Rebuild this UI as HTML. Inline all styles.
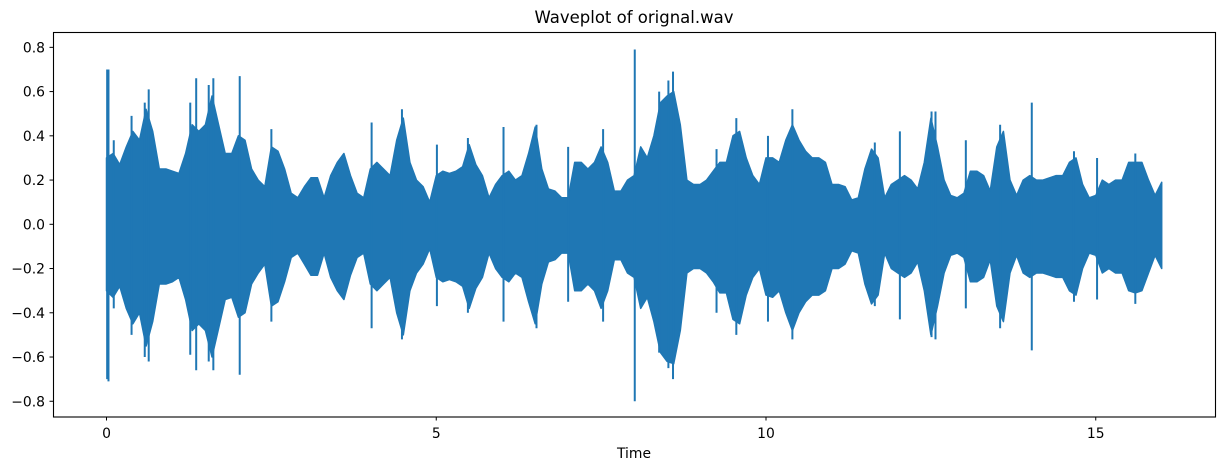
<!DOCTYPE html>
<html><head><meta charset="utf-8"><style>
html,body{margin:0;padding:0;background:#fff;}
svg{display:block;font-family:"DejaVu Sans","Liberation Sans",sans-serif;}
</style></head><body>
<svg id="chart" width="1225" height="470" viewBox="0 0 1225 470" xmlns="http://www.w3.org/2000/svg">
<text x="634" y="23" font-size="16.5" text-anchor="middle" fill="#000">Waveplot of orignal.wav</text>
<g id="plot"></g>
<rect x="53.5" y="32.5" width="1162" height="384.5" fill="none" stroke="#000" stroke-width="1.1"/>
<g id="xaxis"></g>
<g id="yaxis"></g>
<text x="634" y="458" font-size="13.9" text-anchor="middle" fill="#000">Time</text>
</svg>
<script>
const xTicks=[0,5,10,15];
const yTicks=[-0.8,-0.6,-0.4,-0.2,0.0,0.2,0.4,0.6,0.8];
const yTickLabels=["−0.8","−0.6","−0.4","−0.2","0.0","0.2","0.4","0.6","0.8"];
const envStep=0.1;
const posEnv=[0.30,0.32,0.27,0.35,0.42,0.38,0.52,0.42,0.25,0.25,0.24,0.23,0.32,0.45,0.42,0.45,0.58,0.45,0.32,0.32,0.40,0.38,0.25,0.20,0.17,0.35,0.33,0.25,0.14,0.12,0.17,0.21,0.21,0.12,0.22,0.28,0.32,0.22,0.14,0.12,0.25,0.28,0.25,0.22,0.38,0.48,0.28,0.20,0.17,0.10,0.22,0.24,0.23,0.24,0.26,0.36,0.27,0.22,0.12,0.18,0.22,0.24,0.20,0.22,0.32,0.44,0.25,0.16,0.15,0.12,0.12,0.28,0.28,0.25,0.28,0.35,0.28,0.15,0.15,0.20,0.22,0.35,0.30,0.40,0.55,0.58,0.60,0.45,0.20,0.18,0.18,0.20,0.24,0.28,0.28,0.40,0.42,0.30,0.22,0.18,0.30,0.30,0.28,0.38,0.45,0.38,0.33,0.30,0.30,0.28,0.18,0.18,0.17,0.11,0.12,0.25,0.34,0.30,0.12,0.18,0.20,0.22,0.20,0.16,0.28,0.48,0.35,0.20,0.13,0.12,0.14,0.24,0.24,0.22,0.15,0.35,0.42,0.20,0.13,0.20,0.22,0.20,0.20,0.21,0.22,0.22,0.28,0.30,0.18,0.12,0.13,0.20,0.18,0.20,0.20,0.28,0.28,0.28,0.20,0.13,0.19];
const negEnv=[0.30,0.33,0.28,0.38,0.45,0.40,0.55,0.44,0.27,0.27,0.26,0.24,0.34,0.48,0.45,0.48,0.60,0.47,0.34,0.33,0.42,0.40,0.27,0.22,0.18,0.37,0.35,0.26,0.15,0.13,0.18,0.23,0.23,0.13,0.24,0.30,0.34,0.23,0.15,0.13,0.27,0.30,0.27,0.24,0.40,0.50,0.30,0.22,0.18,0.11,0.24,0.26,0.25,0.26,0.28,0.38,0.29,0.24,0.13,0.20,0.24,0.26,0.22,0.24,0.35,0.45,0.27,0.17,0.16,0.13,0.13,0.30,0.30,0.27,0.30,0.38,0.30,0.16,0.16,0.22,0.24,0.38,0.33,0.44,0.58,0.62,0.63,0.48,0.22,0.20,0.20,0.22,0.26,0.31,0.31,0.43,0.45,0.32,0.24,0.20,0.32,0.33,0.30,0.40,0.48,0.40,0.35,0.32,0.32,0.30,0.20,0.20,0.18,0.12,0.13,0.27,0.36,0.32,0.13,0.20,0.22,0.24,0.22,0.17,0.30,0.50,0.37,0.22,0.14,0.13,0.15,0.26,0.26,0.24,0.16,0.37,0.44,0.22,0.14,0.22,0.24,0.22,0.22,0.23,0.24,0.24,0.30,0.32,0.20,0.13,0.14,0.22,0.20,0.22,0.22,0.30,0.31,0.30,0.22,0.14,0.20];
const spikeTimes=[0.01,0.03,0.11,0.38,0.58,0.64,1.27,1.36,1.55,1.62,2.02,2.5,4.02,4.48,5.01,5.48,6.02,6.52,7.0,7.53,8.01,8.38,8.52,8.59,9.25,9.55,10.03,10.4,11.65,12.03,12.51,12.57,13.03,13.55,14.03,14.67,15.02,15.6];
const spikeHigh=[0.70,0.70,0.38,0.49,0.55,0.61,0.55,0.66,0.63,0.66,0.67,0.43,0.46,0.52,0.36,0.39,0.44,0.45,0.35,0.43,0.79,0.60,0.65,0.69,0.34,0.48,0.40,0.52,0.37,0.42,0.51,0.51,0.38,0.45,0.55,0.33,0.30,0.32];
const spikeLow=[-0.70,-0.71,-0.38,-0.50,-0.60,-0.62,-0.59,-0.66,-0.62,-0.66,-0.68,-0.44,-0.47,-0.52,-0.37,-0.40,-0.44,-0.47,-0.35,-0.44,-0.80,-0.58,-0.65,-0.70,-0.40,-0.50,-0.44,-0.52,-0.37,-0.43,-0.51,-0.52,-0.38,-0.47,-0.57,-0.35,-0.34,-0.36];

const NS="http://www.w3.org/2000/svg";
const X=t=>106.5+t*65.95;
const Y=v=>224.3-v*221.2;
const color="#1f77b4";
function mk(tag,attrs,parent){const e=document.createElementNS(NS,tag);for(const k in attrs)e.setAttribute(k,attrs[k]);parent.appendChild(e);return e;}
const plot=document.getElementById('plot');
let pts=[];
const tEnd=16.03;
for(let i=0;i<posEnv.length;i++){const t=Math.min(i*envStep,tEnd);pts.push(X(t).toFixed(1)+","+Y(posEnv[i]).toFixed(1));}
for(let i=negEnv.length-1;i>=0;i--){const t=Math.min(i*envStep,tEnd);pts.push(X(t).toFixed(1)+","+Y(-negEnv[i]).toFixed(1));}
const poly=mk('polygon',{points:pts.join(' '),fill:color,stroke:color,'stroke-width':'1.5','stroke-linejoin':'round'},plot);


for(let i=0;i<spikeTimes.length;i++){
  const l=mk('line',{x1:X(spikeTimes[i]),x2:X(spikeTimes[i]),y1:Y(spikeHigh[i]),y2:Y(spikeLow[i]),stroke:color,'stroke-width':'2'},plot);
  
  
}
const xa=document.getElementById('xaxis');
xTicks.forEach(v=>{
  const tk=mk('line',{x1:X(v),x2:X(v),y1:417,y2:420.5,stroke:'#000','stroke-width':'1'},xa);
  
  
  const tx=mk('text',{x:X(v),y:438,'font-size':'13.9','text-anchor':'middle',fill:'#000'},xa);
  tx.textContent=String(v);
  
  
});
const ya=document.getElementById('yaxis');
yTicks.forEach((v,i)=>{
  const tk=mk('line',{x1:49.5,x2:53,y1:Y(v),y2:Y(v),stroke:'#000','stroke-width':'1'},ya);
  
  
  const tx=mk('text',{x:45,y:Y(v)+5,'font-size':'13.9','text-anchor':'end',fill:'#000'},ya);
  tx.textContent=yTickLabels[i];
  
  
});
</script>
</body></html>
